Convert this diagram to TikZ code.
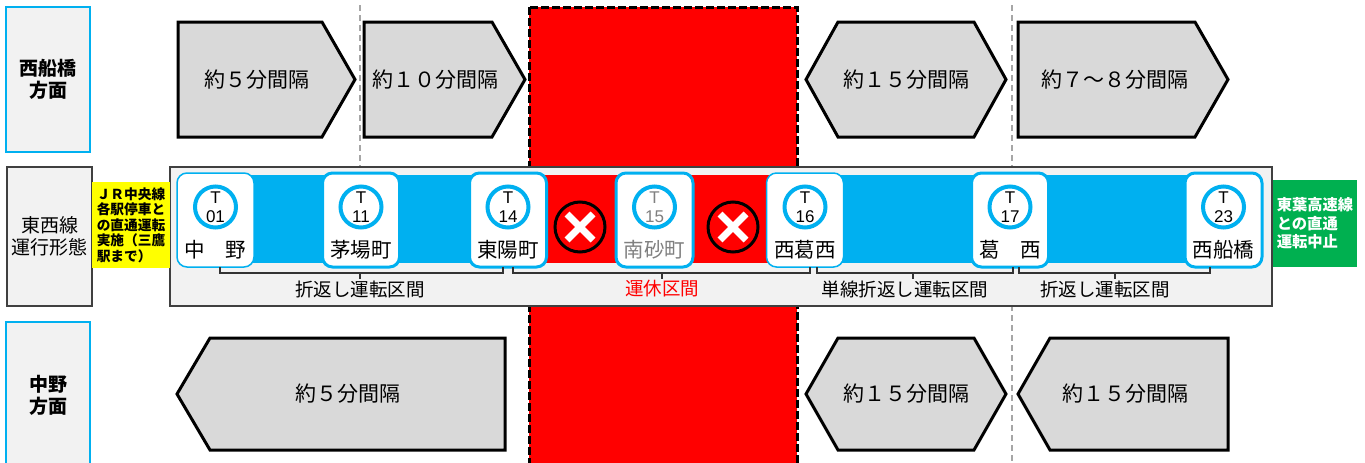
\documentclass[tikz,border=0pt]{standalone}
\usepackage{fontspec}
\setmainfont{Noto Sans CJK JP}
\newfontfamily\numfont{Liberation Sans}
\definecolor{tozaiblue}{HTML}{00B0F0}
\definecolor{panelgray}{HTML}{F2F2F2}
\definecolor{shapegray}{HTML}{D9D9D9}
\definecolor{stopred}{HTML}{FF0000}
\definecolor{notegreen}{HTML}{00B050}
\definecolor{noteyellow}{HTML}{FFFF00}
\definecolor{closedgray}{HTML}{808080}
\definecolor{guidegray}{HTML}{A6A6A6}

\begin{document}
\begin{tikzpicture}[x=1pt,y=-1pt,
    interval/.style={draw=black,line width=3pt,fill=shapegray,line join=miter},
    intervaltext/.style={font=\fontsize{21}{25}\selectfont},
    dirbox/.style={draw=tozaiblue,line width=2pt,fill=panelgray,minimum width=84pt,align=center,font=\bfseries\fontsize{19}{22}\selectfont},
    panelbox/.style={draw=black!75,line width=1.5pt,fill=panelgray},
    stationbox/.style={draw=tozaiblue,line width=3pt,fill=white,rounded corners=10pt,minimum width=77pt,minimum height=94pt},
    thinbox/.style={stationbox,line width=1.5pt},
    stationno/.style={circle,draw=tozaiblue,line width=4pt,fill=white,minimum size=41pt,inner sep=0pt,align=center,font=\numfont\fontsize{17}{19.5}\selectfont},
    stationname/.style={font=\fontsize{20.5}{24}\selectfont},
    stopmark/.style={circle,draw=black,line width=3pt,fill=stopred,minimum size=50pt},
    crossline/.style={white,line width=7pt},
    brace/.style={draw=black!80,line width=1.3pt},
    sectiontext/.style={font=\fontsize{18.5}{22}\selectfont},
    guide/.style={guidegray,line width=1.5pt,dash pattern=on 6pt off 4pt}
  ]
    \useasboundingbox (0,0) rectangle (1365,463);
    \clip (0,0) rectangle (1365,463);
    %% Guides and closed section
    \draw[guide] (360,5) -- (360,167);
    \draw[guide] (1012,5) -- (1012,463);
    \draw[line width=3pt,dash pattern=on 8pt off 3pt,fill=stopred] (529,7) rectangle (797,475);
    %% Direction labels
    \node[dirbox,minimum height=145pt] (westdir) at (48,79.5) {西船橋\\方面};
    \node[panelbox,minimum width=85pt,minimum height=139pt,align=center,font=\fontsize{19}{22}\selectfont] (linelabel) at (49.5,236.5) {東西線\\運行形態};
    \node[dirbox,minimum height=146pt] (eastdir) at (48,395) {中野\\方面};
    %% Intervals towards Nishi-Funabashi
    \draw[interval] (178,22) -- (322,22) -- (355,79.5) -- (322,137) -- (178,137) -- cycle;
    \node[intervaltext] (top1) at (257,79.5) {約５分間隔};
    \draw[interval] (364,22) -- (492,22) -- (525,79.5) -- (492,137) -- (364,137) -- cycle;
    \node[intervaltext] (top2) at (435,79.5) {約１０分間隔};
    \draw[interval] (806,79.5) -- (838,22) -- (974,22) -- (1006,79.5) -- (974,137) -- (838,137) -- cycle;
    \node[intervaltext] (top3) at (906,79.5) {約１５分間隔};
    \draw[interval] (1018,22) -- (1195,22) -- (1228,79.5) -- (1195,137) -- (1018,137) -- cycle;
    \node[intervaltext] (top4) at (1115,79.5) {約７～８分間隔};
    %% Intervals towards Nakano
    \draw[interval] (177,394) -- (210,338) -- (505,338) -- (505,450) -- (210,450) -- cycle;
    \node[intervaltext] (bot1) at (348,394) {約５分間隔};
    \draw[interval] (806,394) -- (838,338) -- (974,338) -- (1006,394) -- (974,450) -- (838,450) -- cycle;
    \node[intervaltext] (bot2) at (906,394) {約１５分間隔};
    \draw[interval] (1018,394) -- (1050,338) -- (1228,338) -- (1228,450) -- (1050,450) -- cycle;
    \node[intervaltext] (bot3) at (1125,394) {約１５分間隔};
    %% Line
    \draw[panelbox] (170,167) rectangle (1272,306);
    \fill[tozaiblue] (215,175) rectangle (1225,263);
    \fill[stopred] (508,175) rectangle (805,263);
    %% Stations
    \node[thinbox] (nakano) at (215.5,220) {};
    \node[stationno] (nakanono) at (215.5,207) {T\\01};
    \node[stationname] (nakanoname) at (215.5,250) {中　野};
    \node[stationbox] (kayabacho) at (361,220) {};
    \node[stationno] (kayabachono) at (361,207) {T\\11};
    \node[stationname] (kayabachoname) at (361,250) {茅場町};
    \node[stationbox] (toyocho) at (508,220) {};
    \node[stationno] (toyochono) at (508,207) {T\\14};
    \node[stationname] (toyochoname) at (508,250) {東陽町};
    \node[stationbox] (minamisunamachi) at (654.5,220) {};
    \node[stationno,text=closedgray] (minamisunamachino) at (654.5,207) {T\\15};
    \node[stationname,text=closedgray] (minamisunamachiname) at (654.5,250) {南砂町};
    \node[thinbox] (nishikasai) at (805,220) {};
    \node[stationno] (nishikasaino) at (805,207) {T\\16};
    \node[stationname] (nishikasainame) at (805,250) {西葛西};
    \node[stationbox] (kasai) at (1010,220) {};
    \node[stationno] (kasaino) at (1010,207) {T\\17};
    \node[stationname] (kasainame) at (1010,250) {葛　西};
    \node[stationbox] (nishifunabashi) at (1223.5,220) {};
    \node[stationno] (nishifunabashino) at (1223.5,207) {T\\23};
    \node[stationname] (nishifunabashiname) at (1223.5,250) {西船橋};
    %% Suspended
    \node[stopmark] (stop1) at (580,227) {};
    \draw[crossline] (567,214) -- (593,240) (567,240) -- (593,214);
    \node[stopmark] (stop2) at (733,227) {};
    \draw[crossline] (720,214) -- (746,240) (720,240) -- (746,214);
    %% Sections
    \draw[brace] (220,267) -- (220,273) -- (503,273) -- (503,267) (360,273) -- (360,279);
    \node[sectiontext] (sec1) at (360,289) {折返し運転区間};
    \draw[brace] (513,267) -- (513,273) -- (810,273) -- (810,267) (662,273) -- (662,279);
    \node[sectiontext,text=stopred] (sec2) at (662,289) {運休区間};
    \draw[brace] (817,267) -- (817,273) -- (1013,273) -- (1013,267) (913,273) -- (913,279);
    \node[sectiontext] (sec3) at (905,289) {単線折返し運転区間};
    \draw[brace] (1019,267) -- (1019,273) -- (1210,273) -- (1210,267) (1115,273) -- (1115,279);
    \node[sectiontext] (sec4) at (1105,289) {折返し運転区間};
    %% Through services
    \node[fill=noteyellow,minimum width=78pt,minimum height=86pt,inner sep=0pt,align=left,font=\bfseries\fontsize{13.7}{15.5}\selectfont] (jrnote) at (131,225) {ＪＲ中央線\\各駅停車と\\の直通運転\\実施（三鷹\\駅まで）};
    \node[fill=notegreen,text=white,minimum width=84pt,minimum height=87pt,inner sep=0pt,align=left,font=\bfseries\fontsize{15.3}{18.5}\selectfont] (toyonote) at (1315,223.5) {東葉高速線\\との直通\\運転中止};
\end{tikzpicture}
\end{document}
